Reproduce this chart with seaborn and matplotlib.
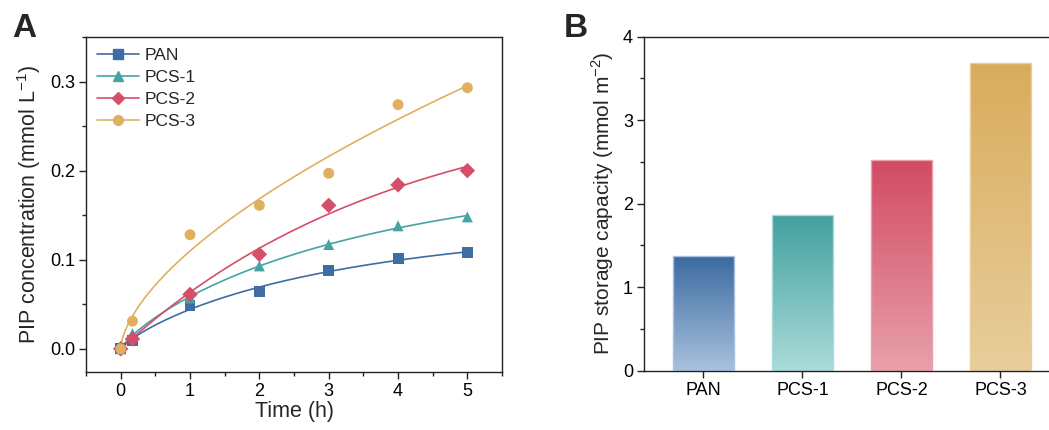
import numpy as np
import pandas as pd
import matplotlib
matplotlib.use("Agg")
import matplotlib.pyplot as plt
import seaborn as sns
from matplotlib.colors import LinearSegmentedColormap
from matplotlib.lines import Line2D

sns.set_theme(style="ticks")
plt.rcParams['font.family'] = ['Liberation Sans', 'DejaVu Sans']
plt.rcParams['mathtext.fontset'] = 'custom'
plt.rcParams['mathtext.rm'] = 'Liberation Sans'

# ---- data ----
time_h = [0, 0.17, 1, 2, 3, 4, 5]
pan = [0.0, 0.009, 0.049, 0.064, 0.088, 0.101, 0.108]
pcs1 = [0.0, 0.017, 0.057, 0.093, 0.117, 0.138, 0.148]
pcs2 = [0.0, 0.011, 0.061, 0.106, 0.161, 0.184, 0.200]
pcs3 = [0.0, 0.031, 0.128, 0.161, 0.197, 0.274, 0.293]
series_names = ["PAN", "PCS-1", "PCS-2", "PCS-3"]
capacity = [1.377, 1.865, 2.523, 3.685]

colors = ["#3e6da3", "#46a3a2", "#d44f69", "#e0b060"]
top_cols = ["#3c6ba0", "#439f9f", "#d24b64", "#d9ac5c"]
bot_cols = ["#a9c1de", "#a9dbd9", "#e8a0ab", "#e8ce9c"]
markers = ["s", "^", "D", "o"]

fig = plt.figure(figsize=(10.49, 4.30), dpi=100)
axA = fig.add_axes([0.082, 0.135, 0.3966, 0.779])
axB = fig.add_axes([0.614, 0.138, 0.386, 0.7767])

# ---- panel A ----
rows = []
for name, vals in zip(series_names, [pan, pcs1, pcs2, pcs3]):
    for t, v in zip(time_h, vals):
        rows.append({"Time": t, "Conc": v, "Sample": name})
df = pd.DataFrame(rows)

t_arr = np.array(time_h)
tfine = np.linspace(0, 5, 400)
for i, vals in enumerate([pan, pcs1, pcs2, pcs3]):
    y = np.array(vals)
    # stretched-exponential fit q = a(1-exp(-k t^n)) fitted to the points
    best = None
    for n in np.linspace(0.5, 1.0, 51):
        tn = t_arr ** n
        for k in np.linspace(0.01, 2.0, 400):
            f = 1 - np.exp(-k * tn)
            a = (f @ y) / (f @ f)
            sse = np.sum((a * f - y) ** 2)
            if best is None or sse < best[0]:
                best = (sse, a, k, n)
    _, a, k, n = best
    fit = pd.DataFrame({"Time": tfine, "Conc": a * (1 - np.exp(-k * tfine ** n))})
    sns.lineplot(data=fit, x="Time", y="Conc", ax=axA, color=colors[i], lw=1.2)

sns.scatterplot(data=df, x="Time", y="Conc", hue="Sample", style="Sample",
                palette=colors, markers=markers, s=62, edgecolor="none",
                ax=axA, legend=False, zorder=3)

handles = [Line2D([], [], color=c, marker=m, markersize=7 if m != "D" else 6,
                  lw=1.2, markeredgecolor=c) for c, m in zip(colors, markers)]
axA.legend(handles, series_names, loc="upper left", frameon=False,
           fontsize=12.5, handlelength=2.4, handletextpad=0.3,
           labelspacing=0.38, borderaxespad=0.25, bbox_to_anchor=(0.0, 1.0))

axA.set_xlim(-0.5, 5.5)
axA.set_ylim(-0.026, 0.35)
axA.set_xticks([0, 1, 2, 3, 4, 5])
axA.set_xticks(np.arange(-0.5, 5.51, 0.5), minor=True)
axA.set_yticks([0.0, 0.1, 0.2, 0.3])
axA.set_yticks(np.arange(0, 0.351, 0.05), minor=True)
axA.set_yticklabels(["0.0", "0.1", "0.2", "0.3"])
axA.set_xlabel("Time (h)", fontsize=15.5, labelpad=1)
axA.set_ylabel("PIP concentration (mmol L$^{-1}$)", fontsize=15.5, labelpad=5)

# ---- panel B ----
dfb = pd.DataFrame({"Sample": series_names, "Cap": capacity})
sns.barplot(data=dfb, x="Sample", y="Cap", hue="Sample", palette=top_cols,
            width=0.61, ax=axB, legend=False, saturation=1)
for i, p in enumerate(axB.patches):
    x0, y0 = p.get_x(), p.get_y()
    w, h = p.get_width(), p.get_height()
    cmap = LinearSegmentedColormap.from_list("g", [bot_cols[i], top_cols[i]])
    grad = np.linspace(0, 1, 256).reshape(-1, 1)
    im = axB.imshow(grad, cmap=cmap, aspect="auto", origin="lower",
                    extent=[x0, x0 + w, y0, y0 + h], zorder=2)
    im.set_clip_path(p)
    p.set_facecolor("none")
    p.set_edgecolor(bot_cols[i])
    p.set_linewidth(1.0)
    p.set_zorder(3)

axB.set_xlim(-0.6, 3.49)
axB.set_ylim(0, 4)
axB.set_yticks([0, 1, 2, 3, 4])
axB.set_yticks(np.arange(0, 4.01, 0.5), minor=True)
axB.set_xlabel("")
axB.set_ylabel("PIP storage capacity (mmol m$^{-2}$)", fontsize=15, labelpad=5)
axB.spines["right"].set_visible(False)

for ax in (axA, axB):
    for s in ax.spines.values():
        s.set_linewidth(1.0)
        s.set_color("#222222")
    ax.tick_params(axis="both", which="major", direction="out", length=5,
                   width=1, labelsize=13, colors="#222222", labelcolor="black",
                   pad=3)
    ax.tick_params(axis="both", which="minor", direction="out", length=3,
                   width=1, colors="#222222")
axB.tick_params(axis="x", which="minor", bottom=False)
axA.tick_params(top=False, right=False)

fig.text(0.012, 0.915, "A", fontsize=24, fontweight="bold")
fig.text(0.537, 0.915, "B", fontsize=24, fontweight="bold")

fig.savefig("out.png", dpi=100)
